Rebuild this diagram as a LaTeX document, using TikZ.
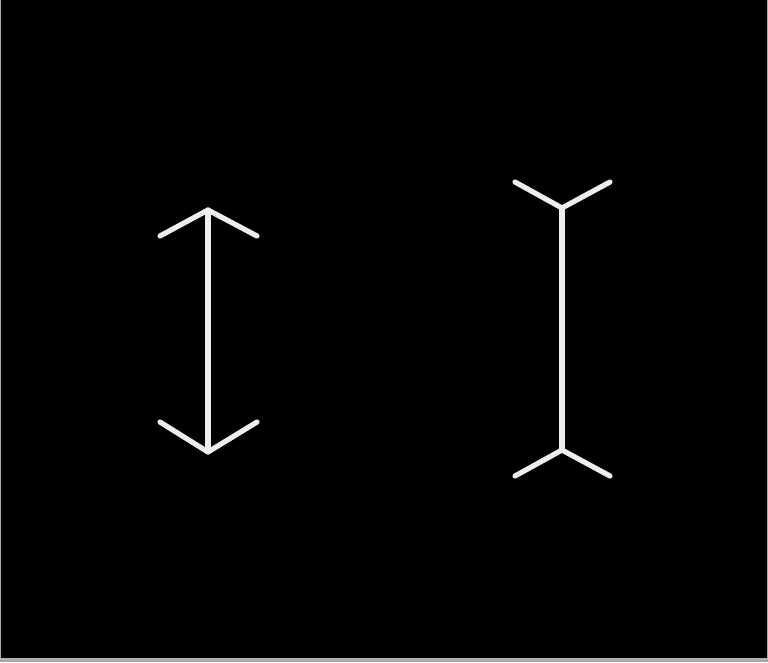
\documentclass[tikz,border=0pt]{standalone}
\begin{document}
\begin{tikzpicture}[x=1pt,y=-1pt,
  fig/.style={draw={rgb,255:red,238;green,238;blue,238},line width=5.2pt,line cap=round,line join=round}]
\useasboundingbox (0,0) rectangle (768,662);
\fill[gray!70] (0,0) rectangle (768,662);
\fill[black] (0.7,0) rectangle (767.3,658);
\fill[gray!60] (0,658) rectangle (768,660);
% left figure: arrowheads pointing outward
\coordinate (LT) at (208,210);
\coordinate (LB) at (208,452);
\draw[fig] (LT) -- (LB);
\draw[fig] (160,236) -- (LT) -- (257,236);
\draw[fig] (160,422) -- (LB) -- (257,422);
% right figure: fins pointing outward
\coordinate (RT) at (562,208);
\coordinate (RB) at (562,450);
\draw[fig] (RT) -- (RB);
\draw[fig] (515,182) -- (RT) -- (610,182);
\draw[fig] (515,476) -- (RB) -- (610,476);
\end{tikzpicture}
\end{document}
